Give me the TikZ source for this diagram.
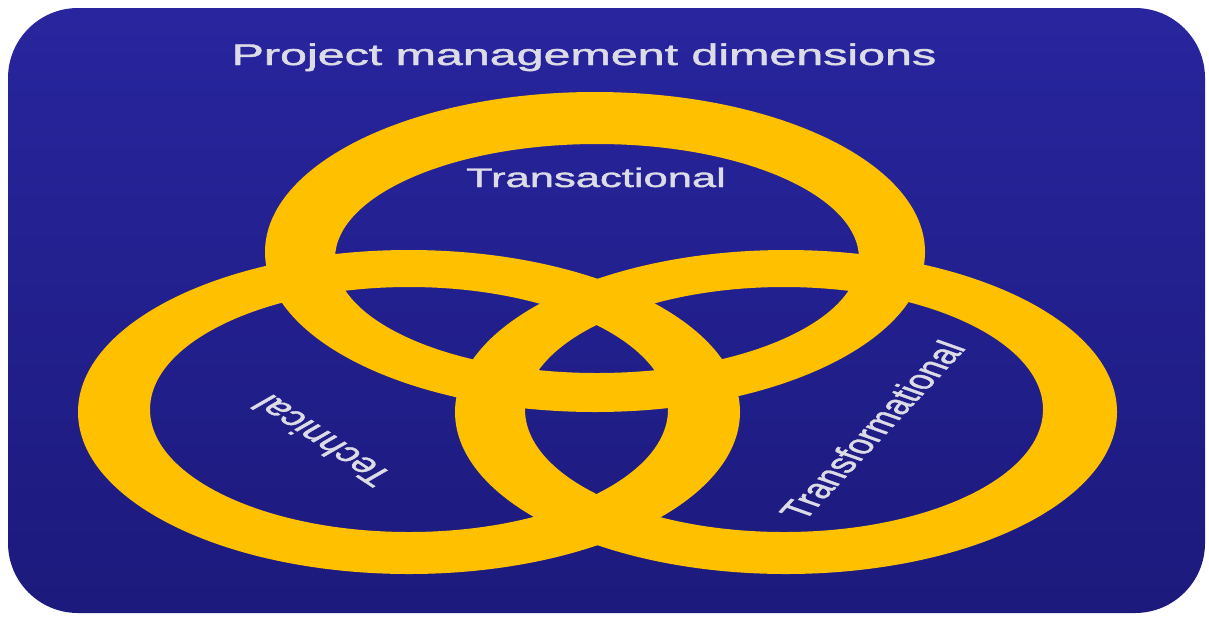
\documentclass[tikz,border=0pt]{standalone}
\usepackage{graphicx}
\usepackage{fontspec}
\setmainfont{Liberation Sans}
\newfontfamily\slidefont[FakeBold=1.3]{Liberation Sans}
\usetikzlibrary{positioning}
\definecolor{cnavy}{HTML}{28259E}
\definecolor{cnavydark}{HTML}{1C1A7C}
\definecolor{cgold}{HTML}{FFC000}
\definecolor{ctext}{HTML}{DCDCE6}
% the slide is stretched sideways, so is its text
\newcommand{\wide}[1]{\scalebox{1.62}[1]{#1}}
\tikzset{
  every picture/.style={x=0.02cm, y=-0.02cm},
  ring/.style={fill=cgold, even odd rule},
  heading/.style={text=ctext, font=\slidefont\fontsize{17}{20}\selectfont, anchor=base, inner sep=0pt},
  dim/.style={text=ctext, font=\slidefont\fontsize{15.3}{18}\selectfont, inner sep=0pt},
}

\begin{document}
\begin{tikzpicture}
  \useasboundingbox (0,0) rectangle (1209,619);
  \shade[top color=cnavy, bottom color=cnavydark, rounded corners=1.4cm] (8,8) rectangle (1205,613);
  % the three rings: left, right, top
  \fill[ring] (409,412) ellipse [x radius=331, y radius=162] (409,409.5) ellipse [x radius=259, y radius=122.5];
  \fill[ring] (786,412) ellipse [x radius=331, y radius=162] (784,409.5) ellipse [x radius=259, y radius=122.5];
  \fill[ring] (595,252) ellipse [x radius=330, y radius=160] (597,258.5) ellipse [x radius=262, y radius=114.5];
  \node[heading] (title) at (584,65) {\wide{Project management dimensions}};
  \node[dim, anchor=base] (transact) at (596,187) {\wide{Transactional}};
  \node[dim] (techn) at (322,441) {\wide{\rotatebox{133}{Technical}}};
  \node[dim] (transform) at (872,430) {\wide{\rotatebox{60}{Transformational}}};
\end{tikzpicture}
\end{document}
